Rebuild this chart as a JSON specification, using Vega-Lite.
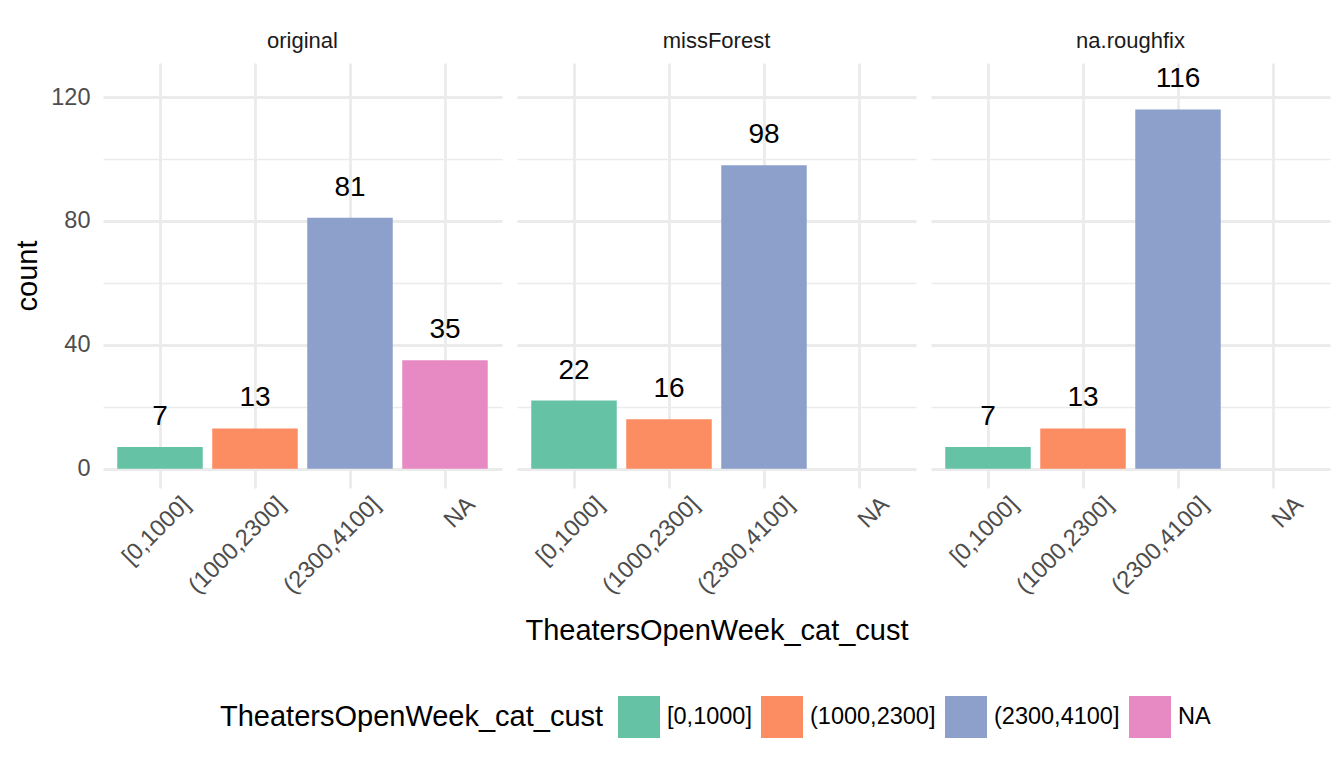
{
  "$schema": "https://vega.github.io/schema/vega-lite/v6.json",
  "padding": {"left": 13, "top": 30, "right": 5, "bottom": 5},
  "background": "white",
  "data": {"values": [
    {"method": "original", "cat": "[0,1000]", "count": 7},
    {"method": "original", "cat": "(1000,2300]", "count": 13},
    {"method": "original", "cat": "(2300,4100]", "count": 81},
    {"method": "original", "cat": "NA", "count": 35},
    {"method": "missForest", "cat": "[0,1000]", "count": 22},
    {"method": "missForest", "cat": "(1000,2300]", "count": 16},
    {"method": "missForest", "cat": "(2300,4100]", "count": 98},
    {"method": "na.roughfix", "cat": "[0,1000]", "count": 7},
    {"method": "na.roughfix", "cat": "(1000,2300]", "count": 13},
    {"method": "na.roughfix", "cat": "(2300,4100]", "count": 116}
  ]},
  "facet": {
    "column": {
      "field": "method", "type": "nominal",
      "sort": ["original", "missForest", "na.roughfix"],
      "title": "TheatersOpenWeek_cat_cust",
      "header": {
        "labelOrient": "top",
        "titleOrient": "bottom",
        "labelFont": "Liberation Sans",
        "labelFontSize": 22,
        "labelColor": "#1A1A1A",
        "labelPadding": 10,
        "titleFont": "Liberation Sans",
        "titleFontSize": 29,
        "titleFontWeight": "normal",
        "titleColor": "black",
        "titlePadding": 9
      }
    }
  },
  "spacing": 15,
  "spec": {
    "width": 399,
    "height": 425,
    "encoding": {
      "x": {
        "field": "cat", "type": "nominal",
        "scale": {"domain": ["[0,1000]", "(1000,2300]", "(2300,4100]", "NA"], "paddingInner": 0.1, "paddingOuter": 0.15},
        "axis": {
          "title": null,
          "labelAngle": -45,
          "labelAlign": "right",
          "labelBaseline": "top",
          "labelOffset": 18,
          "labelPadding": 4,
          "labelFont": "Liberation Sans",
          "labelFontSize": 23.5,
          "labelColor": "#4D4D4D",
          "domain": false,
          "ticks": false,
          "grid": true,
          "bandPosition": 0.5,
          "gridColor": "#EBEBEB",
          "gridWidth": 2.8
        }
      },
      "y": {
        "field": "count", "type": "quantitative",
        "scale": {"domain": [-6.24, 131], "nice": false, "zero": false},
        "axis": {
          "title": "count",
          "values": [0, 20, 40, 60, 80, 100, 120],
          "labelExpr": "datum.value % 40 === 0 ? datum.label : ''",
          "labelFont": "Liberation Sans",
          "labelFontSize": 23.5,
          "labelColor": "#4D4D4D",
          "labelPadding": 13,
          "titleFont": "Liberation Sans",
          "titleFontSize": 29,
          "titleFontWeight": "normal",
          "titleColor": "black",
          "titlePadding": 8,
          "domain": false,
          "ticks": false,
          "grid": true,
          "gridColor": "#EBEBEB",
          "gridWidth": {"condition": {"test": "datum.value % 40 === 0", "value": 2.8}, "value": 1.4}
        }
      }
    },
    "layer": [
      {
        "mark": {"type": "bar", "opacity": 1},
        "encoding": {
          "y2": {"datum": 0},
          "color": {
            "field": "cat", "type": "nominal",
            "scale": {"domain": ["[0,1000]", "(1000,2300]", "(2300,4100]", "NA"], "range": ["#66C2A5", "#FC8D62", "#8DA0CB", "#E78AC3"]},
            "legend": {
              "title": "TheatersOpenWeek_cat_cust",
              "orient": "none",
              "direction": "horizontal",
              "legendX": 117,
              "legendY": 633,
              "titleOrient": "left",
              "titleLimit": 1000,
              "titleFont": "Liberation Sans",
              "titleFontSize": 29,
              "titleFontWeight": "normal",
              "titleColor": "black",
              "titleBaseline": "middle",
              "titlePadding": 14,
              "labelFont": "Liberation Sans",
              "labelFontSize": 23.5,
              "labelColor": "black",
              "labelOffset": 7,
              "labelLimit": 400,
              "columnPadding": 9,
              "symbolType": "square",
              "symbolSize": 1764,
              "symbolStrokeWidth": 0,
              "symbolOpacity": 1
            }
          }
        }
      },
      {
        "mark": {"type": "text", "baseline": "alphabetic", "dy": -22, "font": "Liberation Sans", "fontSize": 28, "color": "black"},
        "encoding": {"text": {"field": "count", "type": "quantitative"}}
      }
    ]
  },
  "config": {
    "view": {"stroke": null},
    "font": "Liberation Sans"
  }
}
